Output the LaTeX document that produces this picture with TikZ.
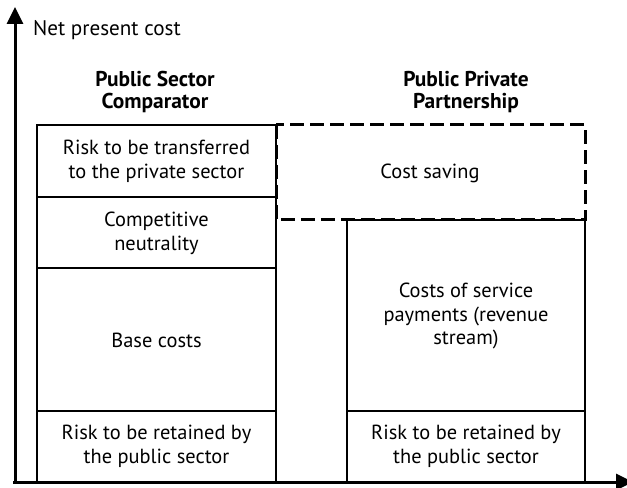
\documentclass[tikz,border=0pt]{standalone}
\usepackage{fontspec}
\setmainfont{PT Sans}
\usetikzlibrary{arrows.meta}
\begin{document}
\begin{tikzpicture}[x=1bp,y=-1bp,
  box/.style={draw,line width=2bp},
  lbl/.style={align=center,font=\fontsize{20.5}{24}\selectfont,inner sep=0pt},
  ttl/.style={align=center,font=\fontsize{21.5}{22}\selectfont\bfseries,inner sep=0pt},
  axis/.style={line width=3bp,-{Triangle[length=17bp,width=16bp]}}]
\useasboundingbox (0,0) rectangle (627,488);
% left column
\draw[box] (37,125) rectangle (276,197);
\draw[box] (37,197) rectangle (276,268);
\draw[box] (37,268) rectangle (276,411);
\draw[box] (37,411) rectangle (276,482);
% right column
\draw[box] (347,220) rectangle (585,411);
\draw[box] (347,411) rectangle (585,482);
% dashed
\draw[line width=3bp,dash pattern=on 14bp off 6bp] (276,125) rectangle (585,220);
% labels
\node[lbl] (t1) at (156.5,161) {Risk to be transferred\\to the private sector};
\node[lbl] (t2) at (156.5,233) {Competitive\\neutrality};
\node[lbl] (t3) at (156.5,340) {Base costs};
\node[lbl] (t4) at (156.5,446) {Risk to be retained by\\the public sector};
\node[lbl] (t5) at (430,173) {Cost saving};
\node[lbl] (t6) at (466,316) {Costs of service\\payments (revenue\\stream)};
\node[lbl] (t7) at (466,446) {Risk to be retained by\\the public sector};
\node[ttl] (h1) at (155,92) {Public Sector\\Comparator};
\node[ttl] (h2) at (466,92) {Public Private\\Partnership};
\node[lbl,anchor=base west,font=\fontsize{21.2}{24}\selectfont] (yl) at (33,36) {Net present cost};
% axes
\coordinate (o) at (13,482);
\coordinate (ybot) at (15,483.5);
\coordinate (ytop) at (15,7);
\coordinate (xend) at (633,482);
\draw[axis] (ybot) -- (ytop);
\draw[axis] (o) -- (xend);
\end{tikzpicture}
\end{document}
